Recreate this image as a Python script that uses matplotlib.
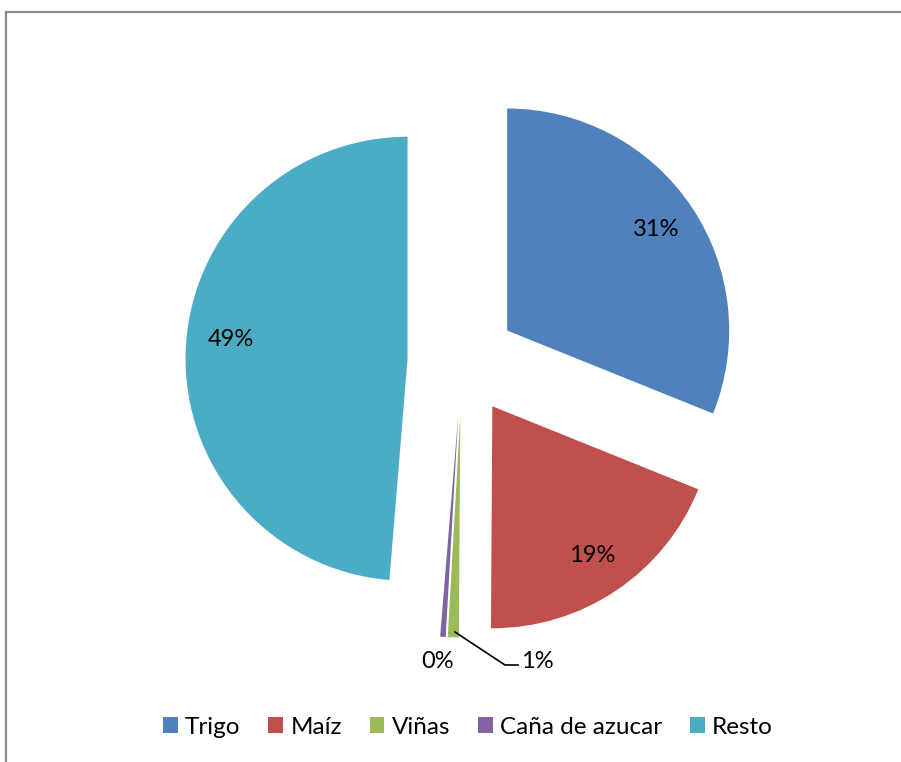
import matplotlib
matplotlib.use("Agg")
import matplotlib.pyplot as plt
from matplotlib.patches import Patch

plt.rcParams["font.family"] = ["Lato", "DejaVu Sans"]

labels = ["Trigo", "Maíz", "Viñas", "Caña de azucar", "Resto"]
shares = [31.1, 19.0, 0.8, 0.4, 48.7]
colors = ["#4F81BD", "#C0504D", "#9BBB59", "#8064A2", "#4BACC6"]

W, H = 901, 762
fig = plt.figure(figsize=(W / 100, H / 100), dpi=100)
ax = fig.add_axes([0, 0, 1, 1])

R = 222
wedges, texts, autotexts = ax.pie(
    shares, colors=colors, radius=R, center=(462, 401),
    explode=[54.5] * len(shares), startangle=90, counterclock=False,
    autopct="%.0f%%", pctdistance=0.81,
    wedgeprops=dict(linewidth=0), textprops=dict(fontsize=17, color="black"))

# pie() resets the limits, so set pixel-like limits afterwards
ax.set_xlim(0, W); ax.set_ylim(0, H)
ax.set_aspect("equal"); ax.axis("off")

# chart frame (gray, open to the right/bottom like the source)
ax.plot([5.5, 5.5, W + 5], [-5, 750, 750], color="#8c8c8c", lw=1.6,
        solid_joinstyle="miter", clip_on=False)

# Excel puts the Resto label a bit higher
x49, y49 = autotexts[4].get_position()
autotexts[4].set_position((x49 + 3, y49 + 12))

# small slices: labels moved below the pie
autotexts[3].set_position((438, 100))
autotexts[2].set_position((537, 100))
ax.plot([455, 505, 518], [130, 97, 97], color="black", lw=1.2)

handles = [Patch(fc=c, ec="none", label=l) for c, l in zip(colors, labels)]
fig.legend(handles=handles, loc="center", bbox_to_anchor=(468 / W, 35 / H),
           ncol=5, frameon=False, fontsize=17.5, handlelength=0.6, handleheight=0.6,
           handletextpad=0.3, columnspacing=1.15)

fig.savefig("out.png", dpi=100)
